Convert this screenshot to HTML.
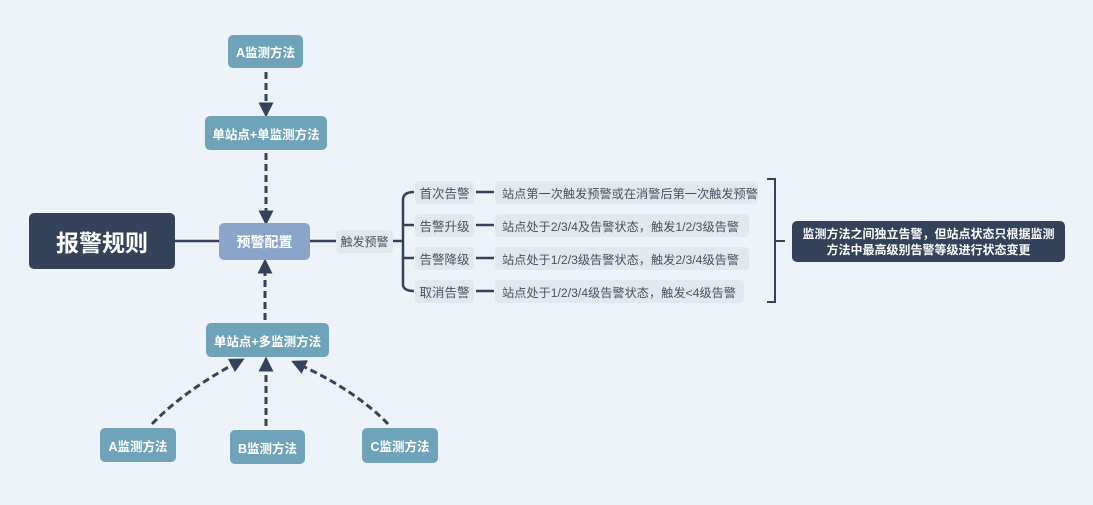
<!DOCTYPE html>
<html><head><meta charset="utf-8"><style>
body{margin:0;width:1093px;height:505px;background:#eef3f9;position:relative;overflow:hidden;font-family:"Liberation Sans","Noto Sans CJK SC",sans-serif}
.b{position:absolute;display:flex;align-items:center;justify-content:center;border-radius:5px;box-sizing:border-box;white-space:nowrap}
.t{background:#6ea3b9;color:#fff;font-weight:bold;font-size:12.5px}
.g{background:#e3e8ee;color:#4a5060;font-size:12.5px;border-radius:4px}
.d{justify-content:flex-start;padding-left:7px;font-size:12.2px}
svg{position:absolute;left:0;top:0}
</style></head><body>
<svg width="1093" height="505">
<defs><marker id="a" viewBox="0 0 10 10" refX="5" refY="5" markerWidth="5" markerHeight="5" orient="auto"><path d="M0,0L10,5L0,10z" fill="#34435a"/></marker></defs>
<g stroke="#34435a" stroke-width="2.5" fill="none">
<line x1="175" y1="241" x2="219" y2="241"/>
<line x1="310" y1="241" x2="336" y2="241"/>
<line x1="393" y1="241" x2="403" y2="241"/>
<path d="M414,192 Q403,192 403,200 L403,284 Q403,291 414,291"/>
<line x1="403" y1="225" x2="414" y2="225"/>
<line x1="403" y1="258" x2="414" y2="258"/>
<line x1="476" y1="192" x2="494" y2="192"/>
<line x1="476" y1="225" x2="494" y2="225"/>
<line x1="476" y1="258" x2="494" y2="258"/>
<line x1="476" y1="291" x2="494" y2="291"/>
<path d="M767,179 L775,179 L775,302 L767,302" stroke-width="2"/>
<line x1="775" y1="241" x2="785" y2="241" stroke-width="2"/>
</g>
<g stroke="#34435a" stroke-width="3" fill="none" stroke-dasharray="7,4" marker-end="url(#a)">
<line x1="266" y1="72" x2="266" y2="110"/>
<line x1="266" y1="153" x2="266" y2="218"/>
<line x1="265" y1="320" x2="265" y2="266"/>
<path d="M152,424 Q185,390 238,362"/>
<line x1="266" y1="426" x2="266" y2="364"/>
<path d="M388,424 Q355,390 298,364"/>
</g>
</svg>
<div class="b" style="left:29px;top:213px;width:146px;height:56px;background:#34435a;color:#fff;font-weight:bold;font-size:23px">报警规则</div>
<div class="b" style="left:219px;top:223px;width:91px;height:37px;background:#8aa5c9;color:#fff;font-weight:bold;font-size:14px">预警配置</div>
<div class="b g" style="left:336px;top:230px;width:57px;height:23px;font-size:12px">触发预警</div>
<div class="b g" style="left:415px;top:181px;width:59px;height:23px">首次告警</div>
<div class="b g" style="left:415px;top:214px;width:59px;height:23px">告警升级</div>
<div class="b g" style="left:415px;top:247px;width:59px;height:23px">告警降级</div>
<div class="b g" style="left:415px;top:280px;width:59px;height:23px">取消告警</div>
<div class="b g d" style="left:495px;top:181px;width:263px;height:23px">站点第一次触发预警或在消警后第一次触发预警</div>
<div class="b g d" style="left:495px;top:214px;width:254px;height:23px">站点处于2/3/4及告警状态，触发1/2/3级告警</div>
<div class="b g d" style="left:495px;top:247px;width:254px;height:23px">站点处于1/2/3级告警状态，触发2/3/4级告警</div>
<div class="b g d" style="left:495px;top:280px;width:249px;height:23px">站点处于1/2/3/4级告警状态，触发&lt;4级告警</div>
<div class="b" style="left:792px;top:221px;width:273px;height:41px;background:#34435a;color:#fff;font-weight:bold;font-size:12px;line-height:16px;text-align:center;white-space:nowrap;padding:0">监测方法之间独立告警，但站点状态只根据监测<br>方法中最高级别告警等级进行状态变更</div>
<div class="b t" style="left:228px;top:35px;width:75px;height:33px">A监测方法</div>
<div class="b t" style="left:205px;top:116px;width:122px;height:34px">单站点+单监测方法</div>
<div class="b t" style="left:206px;top:323px;width:123px;height:34px">单站点+多监测方法</div>
<div class="b t" style="left:100px;top:428px;width:76px;height:34px">A监测方法</div>
<div class="b t" style="left:230px;top:430px;width:75px;height:34px">B监测方法</div>
<div class="b t" style="left:362px;top:428px;width:76px;height:35px">C监测方法</div>
</body></html>
